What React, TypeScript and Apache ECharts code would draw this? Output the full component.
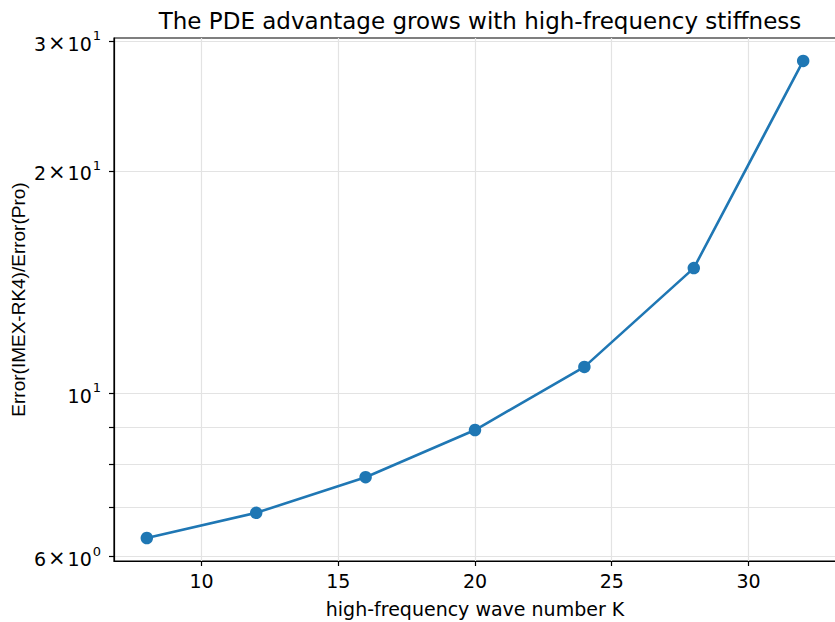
import React, { useEffect, useRef } from "react";
import * as echarts from "echarts";

// Wave numbers and the error ratio measured at each one
const waveNumbers = [8, 12, 16, 20, 24, 28, 32];
const errorRatio = [6.36, 6.88, 7.69, 8.91, 10.85, 14.77, 28.2];

// Tick placement for the log-scaled ratio axis
const yTickValues = [6, 7, 8, 9, 10, 20, 30];
const yLabelValues = [6, 10, 20, 30];
const xTickValues = [10, 15, 20, 25, 30];

const FONT = "DejaVu Sans";

function sciLabel(v: number): string {
  const exp = Math.floor(Math.log10(v) + 1e-9);
  const mant = Math.round(v / Math.pow(10, exp));
  if (mant === 1) return `{b|10}{s|${exp}}`;
  return `{b|${mant}}{x|\u00d7}{b|10}{s|${exp}}`;
}

export default function App() {
  const ref = useRef<HTMLDivElement>(null);

  useEffect(() => {
    if (!ref.current) return;
    const chart = echarts.init(ref.current, null, { renderer: "svg" });
    const gridColor = "#e3e3e3";
    chart.setOption({
      animation: false,
      backgroundColor: "#ffffff",
      title: {
        text: "The PDE advantage grows with high-frequency stiffness",
        left: 475,
        top: 4,
        textAlign: "center",
        textStyle: { fontFamily: FONT, fontSize: 23, fontWeight: "normal", color: "#000" },
      },
      grid: {
        left: 114,
        top: 38,
        right: -1,
        bottom: 61,
        containLabel: false,
        outerBoundsMode: "none",
        show: true,
        borderColor: "#000",
        borderWidth: 1.2,
        backgroundColor: "transparent",
      },
      xAxis: {
        type: "value",
        min: 6.8,
        max: 33.2,
        name: "high-frequency wave number K",
        nameLocation: "middle",
        nameGap: 38,
        nameMoveOverlap: false,
        nameTextStyle: { fontFamily: FONT, fontSize: 19, color: "#000" },
        axisLine: { show: true, onZero: false, lineStyle: { color: "#000", width: 1.2 } },
        axisTick: { show: true, length: 5, lineStyle: { color: "#000", width: 1.2 }, customValues: xTickValues },
        axisLabel: {
          fontFamily: FONT,
          fontSize: 19,
          color: "#000",
          margin: 10,
          customValues: xTickValues,
        },
        splitLine: { show: true, lineStyle: { color: gridColor, width: 1.2 } },
      },
      yAxis: {
        type: "log",
        logBase: 10,
        min: 5.92,
        max: 30.29,
        name: "Error(IMEX-RK4)/Error(Pro)",
        nameLocation: "middle",
        nameGap: 86,
        nameMoveOverlap: false,
        nameTextStyle: { fontFamily: "Liberation Sans", fontSize: 19, color: "#000" },
        axisLine: { show: true, lineStyle: { color: "#000", width: 1.2 } },
        axisTick: { show: true, length: 5, lineStyle: { color: "#000", width: 1.2 }, customValues: yTickValues },
        axisLabel: {
          fontFamily: FONT,
          color: "#000",
          margin: 13,
          customValues: yLabelValues,
          formatter: (v: number) => sciLabel(v),
          rich: {
            b: { fontFamily: FONT, fontSize: 19, color: "#000", lineHeight: 24, verticalAlign: "bottom" },
            x: { fontFamily: FONT, fontSize: 21, color: "#000", lineHeight: 24, verticalAlign: "bottom", padding: [0, 2, 0, 2] },
            s: { fontFamily: FONT, fontSize: 13, color: "#000", lineHeight: 24, verticalAlign: "top", padding: [0, 0, 9, 1] },
          },
        },
        splitLine: { show: true, lineStyle: { color: gridColor, width: 1.2 } },
        minorTick: { show: false },
        minorSplitLine: { show: false },
      },
      series: [
        {
          type: "line",
          data: waveNumbers.map((k, i) => [k, errorRatio[i]]),
          symbol: "circle",
          symbolSize: 12.5,
          itemStyle: { color: "#1f77b4" },
          lineStyle: { color: "#1f77b4", width: 2.6 },
        },
      ],
    });
    return () => chart.dispose();
  }, []);

  return (
    <div
      ref={ref}
      style={{ position: "fixed", left: 0, top: 0, width: 835, height: 622, background: "#fff" }}
    />
  );
}
